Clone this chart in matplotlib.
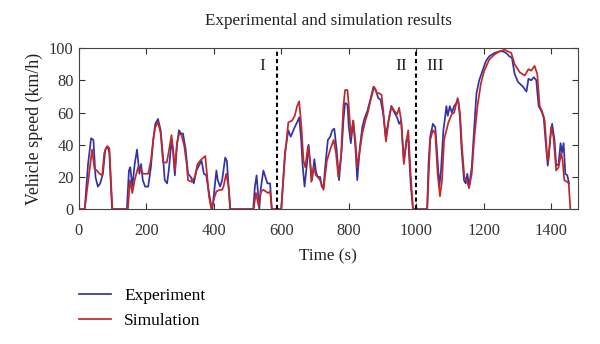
import matplotlib
matplotlib.use("Agg")
import matplotlib.pyplot as plt

# experiment (blue)
exp_t = [0, 18, 28, 37, 44, 50, 57, 64, 72, 79, 86, 91, 99, 143, 149, 153, 159, 166, 173, 180, 185, 190, 197,
         206, 214, 221, 227, 235, 243, 250, 255, 262, 268, 275, 280, 285, 291, 297, 303, 309, 317, 324, 332, 341,
         349, 356, 364, 371, 378, 383, 391, 396, 403, 408, 412, 419, 425, 434, 439, 444, 449, 517, 522, 527, 532,
         535, 539, 547, 553, 559, 567, 572, 600, 611, 621, 628, 640, 647, 653, 659, 663, 669, 676, 681, 686, 691,
         698, 703, 708, 715, 720, 725, 730, 738, 745, 751, 757, 764, 771, 779, 784, 789, 796, 800, 806, 813, 820,
         825, 833, 840, 846, 855, 865, 873, 880, 887, 894, 902, 909, 916, 926, 935, 943, 949, 955, 963, 971, 976,
         983, 990, 1032, 1036, 1041, 1049, 1056, 1063, 1068, 1073, 1080, 1085, 1089, 1093, 1099, 1105, 1112, 1119,
         1124, 1129, 1134, 1141, 1146, 1151, 1156, 1164, 1172, 1178, 1186, 1196, 1206, 1216, 1231, 1246, 1256,
         1266, 1275, 1283, 1291, 1301, 1316, 1326, 1332, 1340, 1348, 1355, 1362, 1370, 1377, 1384, 1389, 1397,
         1402, 1409, 1414, 1421, 1427, 1431, 1436, 1441, 1447, 1452]
exp_v = [0, 0, 28, 44, 43, 20, 14, 16, 22, 37, 39, 35, 0, 0, 24, 26, 14, 28, 37, 22, 28, 18, 14,
         14, 26, 43, 53, 56, 49, 32, 18, 16, 26, 43, 35, 21, 39, 49, 47, 47, 37, 22, 20, 16,
         24, 27, 30, 22, 21, 14, 4, 0, 14, 24, 18, 14, 18, 32, 30, 14, 0, 0, 14, 21, 8,
         0, 12, 24, 20, 16, 16, 0, 0, 35, 49, 45, 51, 54, 57, 43, 28, 14, 28, 40, 28, 18,
         31, 23, 20, 20, 14, 13, 26, 43, 45, 49, 50, 37, 18, 37, 55, 66, 65, 51, 41, 55, 37,
         18, 39, 51, 56, 61, 69, 76, 74, 69, 68, 59, 45, 53, 64, 60, 57, 53, 55, 30, 43, 43,
         16, 0, 0, 28, 45, 53, 51, 30, 14, 24, 49, 57, 64, 58, 64, 60, 64, 66,
         68, 57, 37, 18, 16, 22, 14, 26, 53, 72, 80, 86, 92, 95, 97, 98, 98,
         97, 95, 94, 84, 79, 76, 73, 81, 80, 82, 80, 64, 61, 57, 39, 27, 45,
         53, 43, 27, 28, 41, 35, 41, 22, 21, 16]

# simulation (red)
sim_t = [0, 18, 40, 47, 54, 62, 70, 76, 84, 91, 100, 146, 152, 159, 166, 176, 183, 190, 200,
         206, 214, 221, 227, 235, 243, 250, 261, 268, 275, 280, 285, 291, 298, 305, 313, 320, 324, 334, 344,
         352, 364, 375, 380, 386, 393, 403, 408, 418, 425, 429, 437, 444, 449, 518, 525, 533, 540, 547, 561,
         567, 572, 600, 611, 621, 632, 640, 647, 653, 659, 666, 671, 679, 686, 689, 696, 703, 708, 715, 725,
         735, 745, 755, 762, 769, 777, 784, 789, 796, 800, 806, 813, 820, 825, 833, 840, 849, 855, 865, 875,
         883, 890, 897, 902, 910, 918, 926, 935, 943, 949, 955, 963, 971, 976, 983, 990, 1032, 1041, 1049,
         1056, 1063, 1070, 1076, 1082, 1089, 1095, 1105, 1112, 1122, 1129, 1135, 1142, 1149, 1156, 1164, 1171,
         1181, 1191, 1201, 1216, 1231, 1246, 1261, 1271, 1281, 1291, 1306, 1321, 1332, 1340, 1350, 1358, 1365,
         1372, 1380, 1387, 1391, 1399, 1406, 1414, 1421, 1429, 1433, 1438, 1446, 1451, 1456]
sim_v = [0, 0, 37, 25, 24, 22, 21, 35, 39, 38, 0, 0, 18, 10, 18, 26, 25, 22, 22,
         22, 30, 43, 51, 54, 47, 29, 29, 37, 46, 37, 24, 41, 47, 46, 39, 28, 18, 17, 20,
         28, 31, 33, 22, 8, 0, 8, 11, 12, 12, 14, 22, 14, 0, 0, 10, 2, 11, 12, 10,
         11, 0, 0, 33, 54, 55, 58, 64, 67, 53, 30, 26, 39, 28, 17, 26, 21, 20, 18, 12,
         30, 37, 43, 35, 20, 33, 64, 74, 74, 64, 45, 55, 41, 26, 37, 47, 55, 59, 68, 76,
         72, 72, 71, 61, 42, 55, 64, 61, 59, 63, 55, 28, 43, 49, 22, 0, 0, 43, 49,
         47, 22, 8, 18, 43, 49, 54, 59, 60, 69, 60, 39, 20, 18, 13, 22, 43,
         64, 78, 86, 93, 96, 98, 99, 98, 97, 90, 85, 83, 87, 86, 89, 84, 64,
         61, 55, 33, 30, 51, 45, 24, 26, 35, 30, 18, 17, 16, 0]

x_ticks = [0, 200, 400, 600, 800, 1000, 1200, 1400]
y_ticks = [0, 20, 40, 60, 80, 100]
phase_bounds = [588, 998]
phase_names = ["I", "II", "III"]
phase_label_x = [545, 955, 1055]

plt.rcParams['font.family'] = ['Liberation Serif', 'DejaVu Serif']

fig = plt.figure(figsize=(6, 3.44), dpi=100)
ax = fig.add_axes([0.131, 0.392, 0.832, 0.468])

l1, = ax.plot(exp_t, exp_v, color='#3333a3', lw=1.25, label='Experiment')
l2, = ax.plot(sim_t, sim_v, color='#c0282d', lw=1.25, label='Simulation')

for b in phase_bounds:
    ax.axvline(b, color='black', lw=1.5, ls=(0, (2, 1.5)))
for name, px in zip(phase_names, phase_label_x):
    ax.text(px, 89, name, ha='center', va='center', fontsize=12.5, color='#222222')

ax.set_xlim(0, 1478)
ax.set_ylim(0, 100)
ax.set_xticks(x_ticks)
ax.set_yticks(y_ticks)
ax.tick_params(direction='in', top=True, right=True, length=4, labelsize=11.8, colors='#333333')
ax.tick_params(axis='x', pad=10)
for s in ax.spines.values():
    s.set_color('#444444')
    s.set_linewidth(0.8)

ax.set_title("Experimental and simulation results", fontsize=12.3, color='#222222', pad=17)
ax.set_xlabel("Time (s)", fontsize=12.3, color='#222222', labelpad=7)
ax.set_ylabel("Vehicle speed (km/h)", fontsize=12.9, color='#222222')
ax.yaxis.set_label_coords(-0.072, 0.5)

fig.legend(handles=[l1, l2], loc='upper left', bbox_to_anchor=(0.1317, 0.163),
           frameon=False, fontsize=12.5, handlelength=1.85, handletextpad=0.75,
           labelspacing=0.5, borderpad=0, borderaxespad=0)

fig.savefig("out.png", dpi=100)
